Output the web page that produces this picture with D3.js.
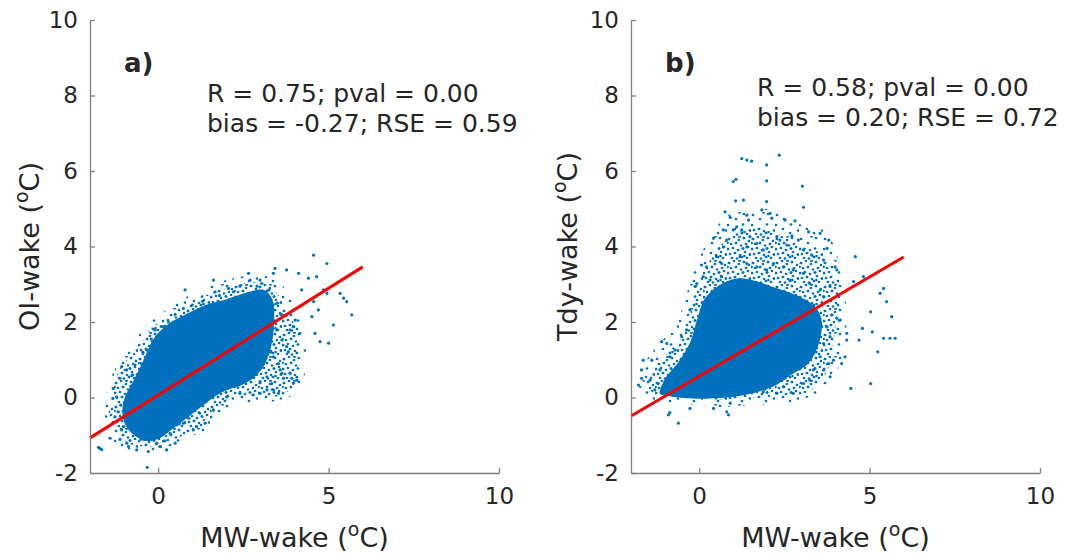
<!DOCTYPE html>
<html>
<head>
<meta charset="utf-8">
<script src="https://cdn.jsdelivr.net/npm/d3@7"></script>
<style>
  body { margin: 0; background: #fff; }
  svg { display: block; }
  text { font-family: 'DejaVu Sans', sans-serif; fill: #262626; }
</style>
</head>
<body>
<div class="chart-container"></div>
<script>
// ticks
const xTicks = [0, 5, 10];
const yTicks = [-2, 0, 2, 4, 6, 8, 10];
const axisDomain = [-2, 10];

const panelLabels = ['a)', 'b)'];
const yNames = ['OI-wake', 'Tdy-wake'];
const xName = 'MW-wake';
const statsA = ['R = 0.75; pval = 0.00', 'bias = -0.27; RSE = 0.59'];
const statsB = ['R = 0.58; pval = 0.00', 'bias = 0.20; RSE = 0.72'];

// regression lines (end points)
const fitA = [[-2, -1.07], [6, 3.46]];
const fitB = [[-2, -0.49], [6, 3.72]];

// outer envelope of the sparse edge of each cloud
const outerA = [
  [-1.55,-0.6],[-1.5,0.1],[-1.3,0.7],[-0.9,1.2],[-0.4,1.85],[0.2,2.3],[0.9,2.7],[1.6,3.0],
  [2.4,3.2],[3.0,3.25],[3.6,3.0],[4.1,2.3],[4.3,1.6],[4.3,0.6],[4.0,0.1],[3.4,-0.1],
  [2.6,-0.15],[1.9,-0.35],[1.5,-0.8],[0.9,-1.05],[0.2,-1.35],[-0.5,-1.4],[-1.2,-1.25]
];
const outerB = [
  [-1.75,0.25],[-1.6,0.9],[-1.2,1.4],[-0.7,1.9],[-0.35,2.8],[-0.1,3.5],[0.3,4.2],[0.8,4.8],
  [1.5,5.0],[2.2,4.95],[2.9,4.6],[3.7,4.4],[4.1,3.6],[4.3,2.6],[4.3,1.6],[4.1,0.8],
  [3.6,0.2],[2.8,-0.1],[1.5,-0.2],[0.5,-0.25],[-0.5,-0.15],[-1.4,-0.05]
];

// envelope of the speckled part of each cloud
const haloA = [
  [-1.45,-0.4],[-1.35,-0.1],[-1.3,0.3],[-1.1,0.8],[-0.6,1.3],[-0.2,1.85],[0.3,2.1],
  [0.8,2.4],[1.5,2.75],[2.2,2.95],[2.8,3.05],[3.3,2.95],[3.8,2.3],[4.0,1.9],[4.1,1.2],
  [4.0,0.4],[3.6,0.05],[2.8,0.05],[2.0,-0.05],[1.5,-0.5],[1.0,-0.85],[0.4,-1.15],
  [-0.2,-1.3],[-0.9,-1.2],[-1.3,-0.8]
];
const haloB = [
  [-1.5,0.3],[-1.3,0.8],[-0.9,1.2],[-0.5,1.6],[-0.2,2.4],[0.0,3.0],[0.3,3.6],[0.7,4.1],
  [1.2,4.4],[1.8,4.5],[2.4,4.3],[3.0,4.0],[3.6,3.8],[3.9,3.3],[4.1,2.6],[4.0,1.9],
  [3.9,1.2],[3.7,0.6],[3.2,0.15],[2.6,0.05],[1.5,0.0],[0.5,-0.05],[-0.5,0.0],[-1.2,0.05]
];

// outline of the solid part of each cloud
const coreA = [
  [-1.05,-0.4],[-0.98,0.0],[-0.75,0.4],[-0.45,0.95],[-0.1,1.6],[0.3,1.95],[0.8,2.2],
  [1.4,2.45],[2.0,2.6],[2.6,2.78],[3.1,2.85],[3.35,2.6],[3.4,2.0],[3.3,1.3],[3.0,0.7],
  [2.5,0.35],[1.9,0.15],[1.4,-0.15],[0.9,-0.5],[0.4,-0.85],[0.0,-1.1],[-0.35,-1.15],
  [-0.7,-1.0],[-0.95,-0.75]
];
const coreB = [
  [-1.15,0.1],[-1.0,0.5],[-0.6,0.95],[-0.25,1.5],[-0.05,2.1],[0.15,2.6],[0.55,2.95],
  [1.1,3.15],[1.6,3.1],[2.1,2.95],[2.6,2.8],[3.1,2.6],[3.45,2.35],[3.6,2.0],[3.5,1.4],
  [3.2,0.9],[2.7,0.6],[2.3,0.35],[1.9,0.2],[1.4,0.08],[0.8,0.0],[0.0,-0.03],[-0.6,0.0],
  [-0.95,0.05]
];

// scattered points around the clouds
const pointsA = [
  [-1.71,-1.35],[-1.66,-1.38],[-1.75,-1.32],[-0.32,-1.85],[-0.63,-1.39],[-0.29,-1.43],
  [0.25,-1.39],[-1.41,-1.08],[-1.12,-1.11],[-1.32,0.24],[-1.22,0.02],[-1.33,-0.02],
  [-1.07,0.82],[-0.92,0.73],[-0.68,0.86],[-1.12,0.51],[-0.34,1.26],[-0.09,1.79],
  [0.15,1.88],[0.79,2.85],[0.74,2.36],[1.62,3.11],[1.67,2.80],[2.06,2.89],[2.21,2.80],
  [2.65,3.29],[2.70,3.11],[2.99,3.11],[3.04,3.02],[3.38,3.29],[3.43,3.42],[3.77,3.38],
  [4.12,3.29],[4.21,2.85],[4.41,3.16],[4.56,3.77],[4.65,3.20],[4.95,3.55],[4.85,2.85],
  [4.95,2.76],[5.34,2.76],[5.44,2.63],[5.53,2.54],[5.68,2.19],[4.56,2.54],[4.70,2.32],
  [4.51,2.14],[5.14,1.92],[4.75,1.48],[5.00,1.44],[4.60,1.70],[4.16,1.70],[3.97,1.88],
  [4.02,2.05],[3.87,1.79],[3.77,1.35],[3.82,1.21],[3.87,0.64],[3.97,0.38],[4.07,0.46],
  [3.92,0.51],[3.63,0.64],[3.68,0.51],[3.38,0.20],[3.53,0.11],[2.99,0.11],[3.19,0.20],
  [2.79,0.07],[2.40,0.11],[2.01,0.02],[1.62,-0.33],[1.38,-0.68],[1.13,-0.77],[1.03,-0.86],
  [0.74,-0.68],[0.35,-0.95],[0.50,-1.21],[-0.04,-1.21],[0.05,-1.30],[-0.92,-1.21],
  [-0.87,-1.30],[-1.07,-0.86],[-1.27,-0.51],[-1.17,-0.38],[-1.02,-0.77],[3.38,1.08],
  [3.53,0.90],[3.19,0.55],[2.99,0.42],[3.58,0.73],[3.33,0.37],[3.09,0.90],[3.63,1.52],
  [3.48,1.79],[-0.80,0.30],[-0.75,0.60],[-0.50,0.90],[-0.45,1.20],[-0.20,1.55],[0.30,2.00],
  [0.50,2.20],[1.00,2.45],[1.30,2.55],[1.80,2.70],[2.40,2.95],[2.90,2.95],[3.25,2.85],
  [3.50,2.50],[3.60,2.20],[3.30,1.20],[2.60,0.50],[2.30,0.35],[1.90,0.20],[1.20,-0.40],
  [0.90,-0.55],[0.20,-1.15],[-0.50,-1.10],[-0.75,-0.90],[-1.00,-0.50],[-1.10,-0.20]
];
const pointsB = [
  [1.25,6.33],[1.40,6.29],[1.54,6.26],[2.35,6.42],[1.98,6.16],[1.00,5.72],[1.08,5.78],
  [1.98,5.74],[3.03,5.60],[3.06,5.04],[1.07,5.21],[1.30,5.23],[1.98,5.19],[0.76,4.92],
  [1.84,4.97],[2.08,4.88],[2.13,4.75],[2.52,4.70],[2.81,4.68],[1.40,4.83],[1.45,4.70],
  [0.91,4.77],[1.10,4.52],[1.25,4.44],[1.00,4.44],[0.71,4.44],[0.81,4.17],[0.42,4.22],
  [1.49,4.26],[1.69,4.08],[1.88,3.91],[1.40,3.99],[2.28,4.26],[2.37,4.17],[2.57,4.04],
  [2.72,4.28],[2.91,4.17],[3.21,4.39],[3.55,4.35],[3.80,4.17],[3.75,3.95],[3.06,3.91],
  [3.30,3.77],[3.65,3.64],[3.99,3.46],[4.04,3.38],[0.07,3.51],[0.32,3.11],[0.22,3.46],
  [0.51,3.73],[0.71,3.99],[0.66,3.55],[-0.07,3.02],[-0.12,2.94],[-0.27,2.32],[0.12,3.20],
  [0.66,3.20],[1.20,3.73],[1.40,3.55],[1.69,3.46],[1.98,3.38],[2.18,3.55],[2.47,3.46],
  [2.76,3.38],[3.06,3.29],[2.67,3.11],[3.25,3.02],[3.55,2.85],[3.84,2.94],[3.65,2.67],
  [4.09,2.67],[4.58,3.73],[4.53,3.07],[4.67,3.02],[4.82,3.20],[5.41,2.89],[5.31,2.76],
  [5.50,2.54],[5.65,2.14],[5.03,2.27],[5.08,1.74],[4.79,1.83],[4.69,1.52],[5.24,1.21],
  [5.03,0.37],[4.45,0.24],[5.41,1.57],[5.60,1.57],[5.75,1.57],[4.33,1.70],[4.33,1.52],
  [4.28,1.08],[4.18,0.90],[4.04,2.10],[4.14,2.05],[3.89,2.19],[3.75,1.87],[3.84,1.61],
  [3.65,1.43],[3.80,0.90],[3.84,0.55],[3.94,0.99],[3.55,1.08],[3.35,0.73],[3.06,0.37],
  [2.76,0.11],[3.25,0.46],[3.65,0.73],[2.47,0.29],[2.28,0.11],[1.88,0.15],[0.91,-0.15],
  [0.81,-0.38],[0.86,-0.46],[0.42,-0.29],[-0.27,-0.29],[-0.61,-0.68],[-0.86,-0.40],
  [-0.90,-0.46],[-1.78,0.33],[-1.69,0.51],[-1.64,0.99],[-1.39,0.99],[-1.10,1.48],
  [-0.95,1.43],[-1.69,0.73],[-1.44,0.46],[-1.30,0.20],[-1.20,0.37],[-1.15,0.73],
  [-0.86,1.08],[-0.71,1.26],[-0.51,1.61],[-0.37,1.79],[-0.66,0.55]
];

const svg_width = 1068;
const svg_height = 554;
const panel_width = 409;
const panel_height = 453;
const blue = '#0072bd';

const svg = d3.select('.chart-container')
              .append('svg')
              .attr('width', svg_width).attr('height', svg_height);

// speckle textures for the less dense parts of the clouds
const defs = svg.append('defs');
function addSpeckle(id, dots){
    const pat = defs.append('pattern')
                    .attr('id', id)
                    .attr('patternUnits', 'userSpaceOnUse')
                    .attr('width', 24).attr('height', 24);
    dots.forEach(p => {
        pat.append('circle').attr('cx', p[0]).attr('cy', p[1]).attr('r', 1.35).style('fill', blue);
    });
}
const denseDots = [
  [2,3],[7,1],[12,4],[17,2],[22,5],[4,8],[9,7],[14,9.5],[19,8],[1,13],[6,12],[11,14],
  [16,12.5],[21,11],[3,18],[8,17],[13,19],[18,16],[23,18.5],[5,22],[10,22.5],[15,21],
  [20,22],[0.5,7],[12.5,0.5],[17.5,20]
];
addSpeckle('speckle', denseDots);
addSpeckle('speckle-sparse', denseDots.filter((d, i) => i % 3 === 0));

function drawPanel(left, outer, halo, core, points, fit, label, yName, stats, statsPos, yLabelX){
    const g = svg.append('g').attr('transform', `translate(${left},20)`);

    const xScale = d3.scaleLinear().domain(axisDomain).range([0, panel_width]);
    const yScale = d3.scaleLinear().domain(axisDomain).range([panel_height, 0]);
    const outline = d3.line().x(d => xScale(d[0])).y(d => yScale(d[1])).curve(d3.curveCatmullRomClosed);

    g.append('path').datum(outer).attr('d', outline).style('fill', 'url(#speckle-sparse)');
    g.append('path').datum(halo).attr('d', outline).style('fill', 'url(#speckle)');
    g.append('path').datum(core).attr('d', outline).style('fill', blue);

    g.selectAll('.dot')
     .data(points)
     .enter()
     .append('circle')
     .attr('class', 'dot')
     .attr('cx', d => xScale(d[0]))
     .attr('cy', d => yScale(d[1]))
     .attr('r', 1.6)
     .style('fill', blue);

    g.append('path')
     .datum(fit)
     .attr('d', d3.line().x(d => xScale(d[0])).y(d => yScale(d[1])))
     .style('fill', 'none').style('stroke', '#ff0000').style('stroke-width', 3);

    // axes, MATLAB style ticks pointing inward
    const xAxis = d3.axisBottom(xScale).tickValues(xTicks).tickFormat(d => String(d))
                    .tickSizeInner(-5).tickSizeOuter(0).tickPadding(15);
    const yAxis = d3.axisLeft(yScale).tickValues(yTicks).tickFormat(d => String(d))
                    .tickSizeInner(-5).tickSizeOuter(0).tickPadding(12);

    const xAxisDraw = g.append('g').attr('transform', `translate(0,${panel_height})`).call(xAxis);
    const yAxisDraw = g.append('g').call(yAxis);
    [xAxisDraw, yAxisDraw].forEach(a => {
        a.selectAll('path, line').style('stroke', '#808080').style('stroke-width', 1.3);
        a.selectAll('text').style('font-size', '23px').style('fill', '#262626')
         .style('font-family', "'DejaVu Sans', sans-serif");
    });

    // x label with superscript o
    const xl = g.append('text')
                .attr('x', panel_width / 2).attr('y', 527)
                .style('text-anchor', 'middle').style('font-size', '27px');
    xl.append('tspan').text(xName + ' (');
    xl.append('tspan').text('o').style('font-size', '19px').attr('dy', -11);
    xl.append('tspan').text('C)').attr('dy', 11);

    const yl = g.append('text')
                .attr('transform', `translate(${yLabelX},${panel_height / 2}) rotate(-90)`)
                .style('text-anchor', 'middle').style('font-size', '27px');
    yl.append('tspan').text(yName + ' (');
    yl.append('tspan').text('o').style('font-size', '19px').attr('dy', -11);
    yl.append('tspan').text('C)').attr('dy', 11);

    g.append('text').text(label)
     .attr('x', xScale(-1.0)).attr('y', 52)
     .style('font-weight', 'bold').style('font-size', '26px');

    const st = g.append('text').style('font-size', '25px');
    stats.forEach((s, i) => {
        st.append('tspan').text(s).attr('x', statsPos[0]).attr('y', statsPos[1] + i * 29.5);
    });
}

drawPanel(90, outerA, haloA, coreA, pointsA, fitA, panelLabels[0], yNames[0], statsA, [117, 82], -51);
drawPanel(631, outerB, haloB, coreB, pointsB, fitB, panelLabels[1], yNames[1], statsB, [126, 76], -54);
</script>
</body>
</html>
